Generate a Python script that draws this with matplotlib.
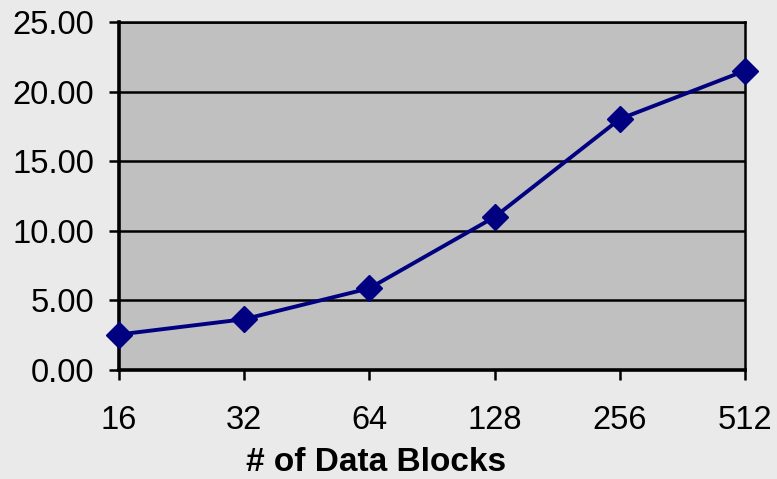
import matplotlib
matplotlib.use("Agg")
import matplotlib.pyplot as plt

# data
blocks = ["16", "32", "64", "128", "256", "512"]
values = [2.55, 3.65, 5.87, 10.99, 18.03, 21.50]
y_ticks = [0, 5, 10, 15, 20, 25]

plt.rcParams["font.family"] = ["Liberation Sans", "DejaVu Sans"]

fig = plt.figure(figsize=(7.77, 4.79), dpi=100, facecolor="#eaeaea")
ax = fig.add_axes([119 / 777, 1 - 370 / 479, (745 - 119) / 777, (370 - 22) / 479])
ax.set_facecolor("#c0c0c0")

x = list(range(len(blocks)))
ax.plot(x, values, color="#000080", linewidth=2.8, marker="D", markersize=13,
        clip_on=False, zorder=5)

ax.set_xlim(0, len(blocks) - 1)
ax.set_ylim(0, 25)
ax.set_xticks(x)
ax.set_xticklabels(blocks)
ax.set_yticks(y_ticks)
ax.set_yticklabels(["%.2f" % v for v in y_ticks])

for v in y_ticks[1:]:
    ax.axhline(v, color="black", linewidth=1.8, zorder=1)

ax.tick_params(axis="both", direction="out", length=7, width=1.8, labelsize=23.5,
               color="black")
ax.tick_params(axis="x", pad=18.5)
ax.tick_params(axis="y", pad=11)

for side in ["left", "bottom"]:
    ax.spines[side].set_linewidth(2.6)
for side in ["top", "right"]:
    ax.spines[side].set_linewidth(1.8)

ax.set_xlabel("# of Data Blocks", fontsize=24, fontweight="bold")
# Excel centres the title a bit left of the plot centre
ax.xaxis.set_label_coords(0.4105, -0.222)

fig.savefig("out.png", dpi=100, facecolor=fig.get_facecolor())
